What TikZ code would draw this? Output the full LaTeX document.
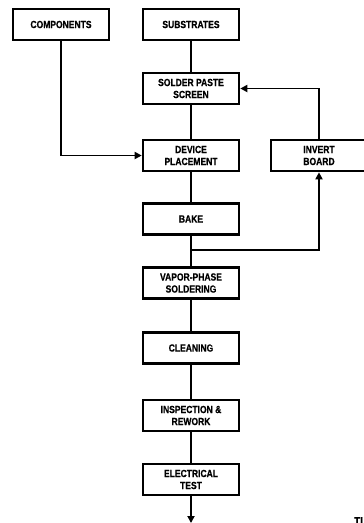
\documentclass[tikz,border=0pt]{standalone}
\usepackage{fontspec}
\setmainfont{Liberation Sans}
\newfontfamily\boxfont[FakeStretch=0.82,FakeBold=0.6]{Liberation Sans Bold}
\usetikzlibrary{arrows.meta}
\begin{document}
\begin{tikzpicture}[x=1pt,y=-1pt,
  stepbox/.style={draw, line width=2.6pt, minimum width=96pt, minimum height=31pt,
    inner sep=1pt, align=center, font=\boxfont\fontsize{10.4}{12}\selectfont},
  flow/.style={line width=1.8pt},
  arr/.style={flow, -{Triangle[length=7pt,width=7pt]}}]
\clip (0,0) rectangle (364,523);
\node[stepbox] (comp) at (61,24.5) {COMPONENTS};
\node[stepbox] (sub) at (191,24.5) {SUBSTRATES};
\node[stepbox] (sps) at (191,88.5) {SOLDER PASTE\\SCREEN};
\node[stepbox] (dev) at (191,155.5) {DEVICE\\PLACEMENT};
\node[stepbox] (inv) at (319,155.5) {INVERT\\BOARD};
\node[stepbox] (bake) at (191,219) {BAKE};
\node[stepbox] (vps) at (191,283) {VAPOR-PHASE\\SOLDERING};
\node[stepbox] (clean) at (191,348) {CLEANING};
\node[stepbox] (insp) at (191,415.5) {INSPECTION \&\\REWORK};
\node[stepbox] (elec) at (191,479.5) {ELECTRICAL\\TEST};
\node[anchor=north west, inner sep=0pt, font=\boxfont\fontsize{12}{12}\selectfont] (tl) at (354,517) {TL};
\coordinate (j) at (191,250);
\coordinate (out) at (191,523);
\draw[flow] (sub) -- (sps);
\draw[flow] (sps) -- (dev);
\draw[flow] (dev) -- (bake);
\draw[flow] (bake) -- (vps);
\draw[flow] (vps) -- (clean);
\draw[flow] (clean) -- (insp);
\draw[flow] (insp) -- (elec);
\draw[arr] (comp.south) |- (dev.west);
\draw[arr] (j) -| (inv.south);
\draw[arr] (inv.north) |- (sps.east);
\draw[arr] (elec.south) -- (out);
\end{tikzpicture}
\end{document}
